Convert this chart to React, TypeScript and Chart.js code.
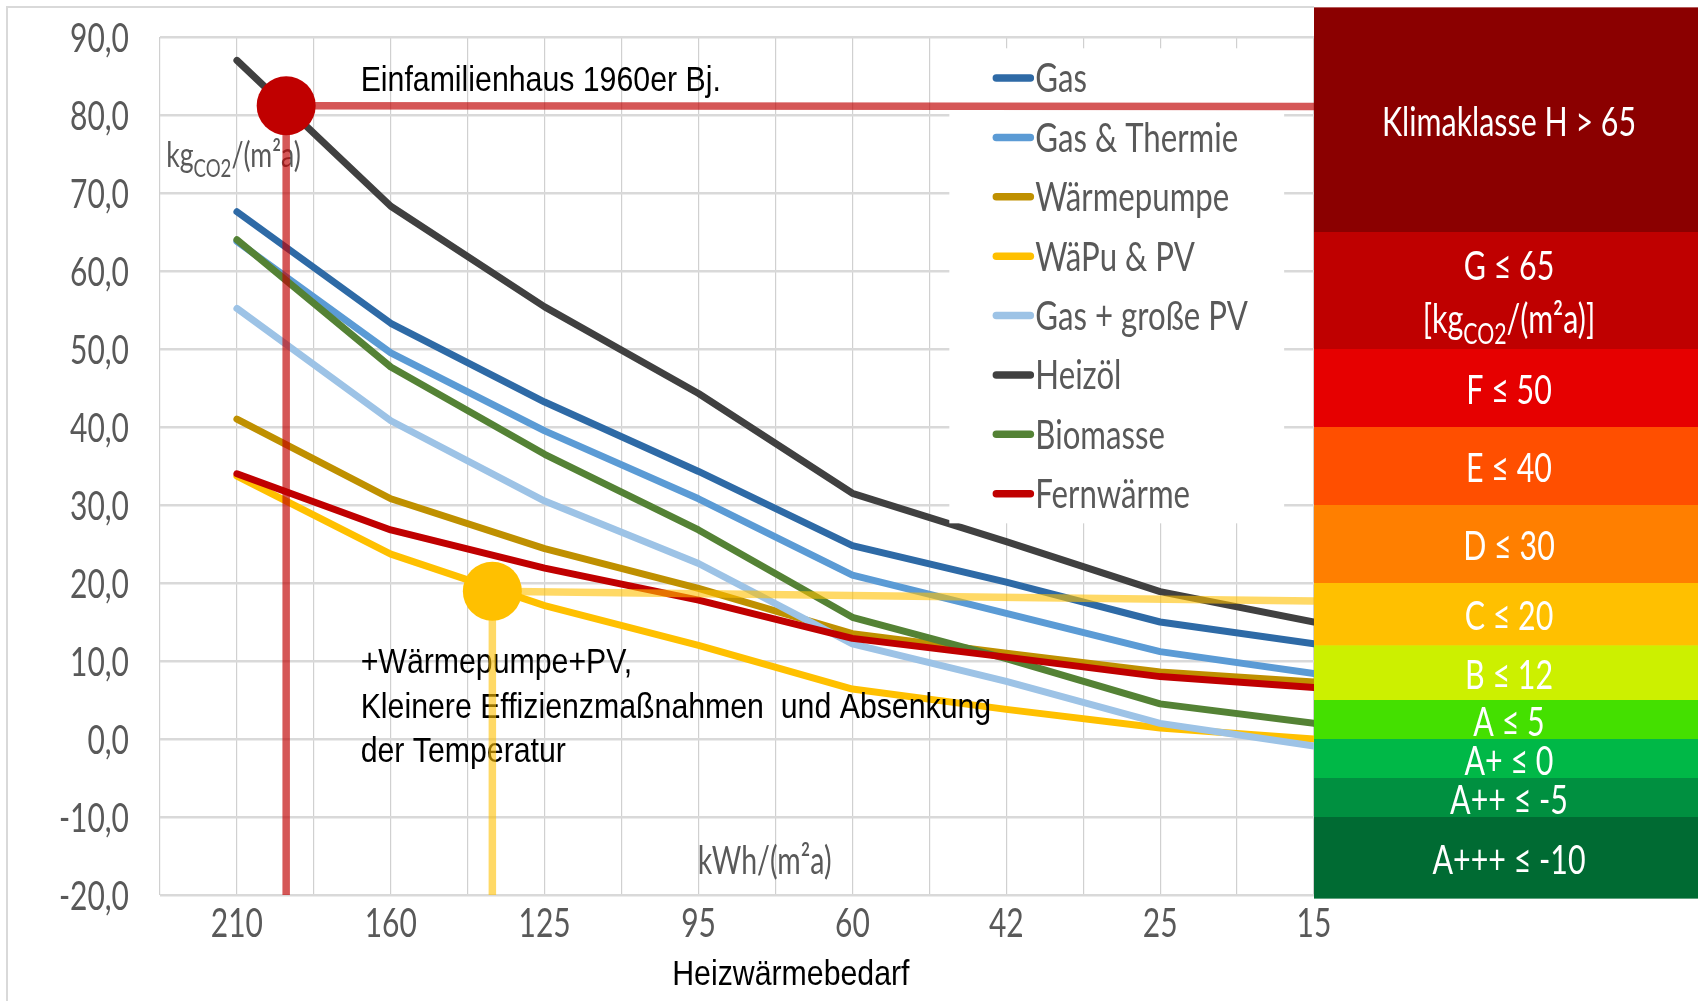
import React, { useEffect, useRef } from 'react';
import { Chart, registerables } from 'chart.js';

Chart.register(...registerables);

// ---------- data ----------
const categories = ['210', '160', '125', '95', '60', '42', '25', '15'];

const gas = [67.6, 53.3, 43.2, 34.3, 24.8, 20.1, 15.0, 12.2];
const gasThermie = [63.8, 49.5, 39.5, 30.8, 21.0, 16.1, 11.2, 8.4];
const waermepumpe = [41.0, 30.8, 24.4, 19.3, 13.5, 11.0, 8.6, 7.3];
const waepuPV = [33.7, 23.7, 17.1, 12.0, 6.4, 3.8, 1.4, 0.0];
const gasGrossePV = [55.2, 40.8, 30.5, 22.5, 12.2, 7.4, 2.0, -0.9];
const heizoel = [87.0, 68.3, 55.4, 44.3, 31.5, 25.3, 18.9, 15.0];
const biomasse = [64.0, 47.7, 36.5, 26.8, 15.6, 10.3, 4.5, 2.0];
const fernwaerme = [34.0, 26.8, 21.9, 17.8, 12.9, 10.5, 8.0, 6.6];

const seriesNames = ['Gas', 'Gas & Thermie', 'Wärmepumpe', 'WäPu & PV', 'Gas + große PV', 'Heizöl', 'Biomasse', 'Fernwärme'];
const seriesValues = [gas, gasThermie, waermepumpe, waepuPV, gasGrossePV, heizoel, biomasse, fernwaerme];
const seriesColors = ['#2E6AA6', '#5B9BD5', '#BF9000', '#FFC000', '#9DC3E6', '#404040', '#548235', '#C00000'];

const yTickValues = [90, 80, 70, 60, 50, 40, 30, 20, 10, 0, -10, -20];

// climate class bands (kgCO2/(m²a))
const bandTops = [93.8, 65, 50, 40, 30, 20, 12, 5, 0, -5, -10];
const bandBottoms = [65, 50, 40, 30, 20, 12, 5, 0, -5, -10, -20.4];
const bandColors = ['#8B0000', '#BF0000', '#E60000', '#FF4F00', '#FF7F00', '#FFC000', '#CCF000', '#44E000', '#00B847', '#009040', '#006B33'];
const bandLabels = ['Klimaklasse H > 65', 'G ≤ 65', 'F ≤ 50', 'E ≤ 40', 'D ≤ 30', 'C ≤ 20', 'B ≤ 12', 'A ≤ 5', 'A+ ≤ 0', 'A++ ≤ -5', 'A+++ ≤ -10'];

// example markers: [x index, value]
const markerX = [0.32, 1.66];
const markerY = [81.2, 18.95];
const markerLineEndY = [81.1, 17.7];
const markerColors = ['#C00000', '#FFC000'];
const markerLineColors = ['rgba(192,0,0,0.66)', 'rgba(255,192,0,0.6)'];

const annoTitle = 'Einfamilienhaus 1960er Bj.';
const annoLines = ['+Wärmepumpe+PV,', 'Kleinere Effizienzmaßnahmen  und Absenkung', 'der Temperatur'];
const xAxisTitle = 'Heizwärmebedarf';
const xUnit = 'kWh/(m²a)';

const FONT_C = '"Lato", "Open Sans", sans-serif';
const SX_C = 0.75;
const FONT_A = '"Liberation Sans", Arial, sans-serif';
const SX_A = 0.865;
const GREY = '#595959';
const CSIZE = 40.5;

function drawText(
  ctx: CanvasRenderingContext2D, text: string, x: number, y: number, size: number,
  family: string, color: string, align: 'left' | 'center' | 'right', sx: number
) {
  ctx.save();
  ctx.font = `${size}px ${family}`;
  ctx.fillStyle = color;
  ctx.textBaseline = 'alphabetic';
  ctx.textAlign = 'left';
  const w = ctx.measureText(text).width * sx;
  let x0 = x;
  if (align === 'center') x0 = x - w / 2;
  else if (align === 'right') x0 = x - w;
  ctx.translate(x0, y);
  ctx.scale(sx, 1);
  ctx.fillText(text, 0, 0);
  ctx.restore();
  return w;
}

type Seg = { t: string; sub?: boolean };
const SUB = 0.7;
function segWidth(ctx: CanvasRenderingContext2D, segs: Seg[], size: number, family: string, sx: number) {
  let w = 0;
  ctx.save();
  for (const s of segs) {
    ctx.font = `${s.sub ? size * SUB : size}px ${family}`;
    w += ctx.measureText(s.t).width * sx;
  }
  ctx.restore();
  return w;
}
function drawSegs(
  ctx: CanvasRenderingContext2D, segs: Seg[], x: number, y: number, size: number,
  family: string, color: string, align: 'left' | 'center', sx: number
) {
  const total = segWidth(ctx, segs, size, family, sx);
  let cx = align === 'center' ? x - total / 2 : x;
  for (const s of segs) {
    const sz = s.sub ? size * SUB : size;
    const w = drawText(ctx, s.t, cx, s.sub ? y + size * 0.28 : y, sz, family, color, 'left', sx);
    cx += w;
  }
}

const overlayPlugin = {
  id: 'overlay',
  beforeDraw(chart: any) {
    const ctx = chart.ctx as CanvasRenderingContext2D;
    ctx.save();
    ctx.fillStyle = '#FFFFFF';
    ctx.fillRect(0, 0, chart.width, chart.height);
    ctx.restore();
  },
  afterDatasetsDraw(chart: any) {
    const ctx = chart.ctx as CanvasRenderingContext2D;
    const xs = chart.scales.x;
    const ys = chart.scales.y;
    const area = chart.chartArea;

    // ---- legend ----
    const lx0 = xs.getPixelForValue(4.63);
    const lx1 = xs.getPixelForValue(6.806);
    const ly0 = ys.getPixelForValue(88.55);
    const ly1 = ys.getPixelForValue(27.65);
    ctx.save();
    ctx.fillStyle = '#FFFFFF';
    ctx.fillRect(lx0, ly0, lx1 - lx0, ly1 - ly0);
    const rowH = (ly1 - ly0) / seriesNames.length;
    seriesNames.forEach((name, i) => {
      const cy = ly0 + (i + 0.5) * rowH;
      ctx.strokeStyle = seriesColors[i];
      ctx.lineWidth = 7.5;
      ctx.lineCap = 'round';
      ctx.beginPath();
      ctx.moveTo(lx0 + 47, cy);
      ctx.lineTo(lx0 + 81, cy);
      ctx.stroke();
      drawText(ctx, name, lx0 + 86, cy + 14.5, CSIZE, FONT_C, GREY, 'left', 0.77);
    });
    ctx.restore();

    // ---- annotation texts ----
    const tx = xs.getPixelForValue(0.804);
    drawText(ctx, annoTitle, tx, ys.getPixelForValue(83.04), 35, FONT_A, '#000000', 'left', SX_A);
    const l0 = ys.getPixelForValue(8.45);
    const lh = ys.getPixelForValue(0) - ys.getPixelForValue(5.7);
    annoLines.forEach((t, i) => {
      drawText(ctx, t, tx, l0 + i * lh, 35, FONT_A, '#000000', 'left', SX_A);
    });
    drawSegs(ctx, [{ t: 'kg' }, { t: 'CO2', sub: true }, { t: '/(m²a)' }],
      xs.getPixelForValue(-0.46), ys.getPixelForValue(73.3), 35, FONT_C, GREY, 'left', 0.76);
    drawText(ctx, xUnit, xs.getPixelForValue(3.43), ys.getPixelForValue(-15.55) + 13.5, 38, FONT_C, GREY, 'center', SX_C);

    // ---- marker lines and dots ----
    const bottom = ys.getPixelForValue(-20);
    const boxLeft = xs.getPixelForValue(7);
    markerX.forEach((mx, i) => {
      const px = xs.getPixelForValue(mx);
      const py = ys.getPixelForValue(markerY[i]);
      const pe = ys.getPixelForValue(markerLineEndY[i]);
      ctx.save();
      ctx.strokeStyle = markerLineColors[i];
      ctx.lineWidth = 7.5;
      ctx.lineCap = 'butt';
      ctx.beginPath();
      ctx.moveTo(px, py);
      ctx.lineTo(boxLeft, pe);
      ctx.stroke();
      ctx.beginPath();
      ctx.moveTo(px, py);
      ctx.lineTo(px, bottom);
      ctx.stroke();
      ctx.fillStyle = markerColors[i];
      ctx.beginPath();
      ctx.arc(px, py, 29.5, 0, Math.PI * 2);
      ctx.fill();
      ctx.restore();
    });

    // ---- climate class bands ----
    const rightEdge = chart.width;
    const bandCx = (boxLeft + rightEdge) / 2 + 3;
    bandTops.forEach((top, i) => {
      const y0 = ys.getPixelForValue(top);
      const y1 = ys.getPixelForValue(bandBottoms[i]);
      ctx.save();
      ctx.fillStyle = bandColors[i];
      ctx.fillRect(boxLeft, y0, rightEdge - boxLeft, y1 - y0 + 0.5);
      ctx.restore();
      const cy = (y0 + y1) / 2 + 1.5;
      if (i === 1) {
        drawText(ctx, bandLabels[i], bandCx, cy - 26.5 + 14.5, CSIZE, FONT_C, '#FFFFFF', 'center', SX_C);
        drawSegs(ctx, [{ t: '[kg' }, { t: 'CO2', sub: true }, { t: '/(m²a)]' }],
          bandCx, cy + 26.5 + 14, CSIZE, FONT_C, '#FFFFFF', 'center', SX_C);
      } else {
        drawText(ctx, bandLabels[i], bandCx, cy + 14.5, CSIZE, FONT_C, '#FFFFFF', 'center', SX_C);
      }
    });

    // ---- tick labels ----
    yTickValues.forEach((v) => {
      const py = ys.getPixelForValue(v);
      drawText(ctx, v.toFixed(1).replace('.', ','), area.left - 31, py + 14.5, CSIZE, FONT_C, GREY, 'right', 0.74);
    });
    categories.forEach((c, i) => {
      drawText(ctx, c, xs.getPixelForValue(i), bottom + 42, CSIZE, FONT_C, GREY, 'center', 0.74);
    });
    drawText(ctx, xAxisTitle, xs.getPixelForValue(3.6), bottom + 90, 35, FONT_A, '#000000', 'center', SX_A);

    // ---- outer frame ----
    ctx.save();
    ctx.strokeStyle = '#D9D9D9';
    ctx.lineWidth = 2;
    ctx.beginPath();
    ctx.moveTo(7, chart.height + 5);
    ctx.lineTo(7, 7);
    ctx.lineTo(boxLeft, 7);
    ctx.stroke();
    ctx.restore();
  },
};

export default function App() {
  const ref = useRef<HTMLCanvasElement>(null);
  useEffect(() => {
    document.body.style.margin = '0';
    document.body.style.overflow = 'hidden';
    const canvas = ref.current as HTMLCanvasElement;
    const datasets = seriesNames.map((name, i) => ({
      label: name,
      data: seriesValues[i].map((v, j) => ({ x: j, y: v })),
      borderColor: seriesColors[i],
      backgroundColor: seriesColors[i],
      borderWidth: 7,
      pointRadius: 0,
      pointHoverRadius: 0,
      tension: 0,
      borderJoinStyle: 'round' as const,
      borderCapStyle: 'round' as const,
      order: seriesNames.length - i,
    }));
    const chart = new Chart(canvas, {
      type: 'line',
      data: { datasets },
      options: {
        animation: false,
        responsive: false,
        devicePixelRatio: 1,
        layout: { padding: { left: 160, top: 37, right: 384, bottom: 106 } },
        plugins: { legend: { display: false }, tooltip: { enabled: false } },
        scales: {
          x: {
            type: 'linear', min: -0.5, max: 7,
            ticks: { display: false, stepSize: 0.5 },
            grid: { color: '#D0D0D0', lineWidth: 1.2, drawTicks: false },
            border: { display: false },
          },
          y: {
            type: 'linear', min: -20, max: 90,
            ticks: { display: false, stepSize: 10 },
            grid: { color: '#D9D9D9', lineWidth: 2.5, drawTicks: false },
            border: { display: false },
          },
        },
      },
      plugins: [overlayPlugin],
    });
    return () => chart.destroy();
  }, []);
  return <canvas ref={ref} width={1698} height={1001} style={{ display: 'block', width: '1698px', height: '1001px' }} />;
}
